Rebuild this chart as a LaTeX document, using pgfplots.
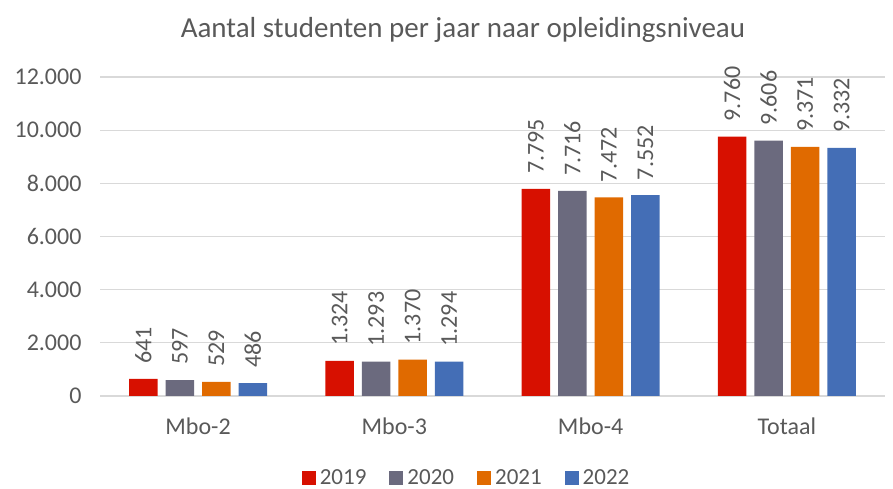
\documentclass[border=0pt]{standalone}
\usepackage{pgfplots}
\pgfplotsset{compat=1.18}
\usepackage{fontspec}
\setmainfont{Carlito}
\definecolor{cA}{HTML}{D71000}
\definecolor{cB}{HTML}{6B6A7E}
\definecolor{cC}{HTML}{E06A00}
\definecolor{cD}{HTML}{446EB6}
\definecolor{txt}{HTML}{595959}
\definecolor{gridc}{HTML}{D9D9D9}
\pgfkeys{/pgf/number format/.cd,1000 sep={.},assume math mode=true}
\begin{document}
\begin{tikzpicture}[x=1pt,y=1pt]
\path[use as bounding box] (0,0) rectangle (893,489);
\node[font=\fontsize{29}{33}\selectfont, text=txt] at (463,459) {Aantal studenten per jaar naar opleidingsniveau};
\begin{axis}[at={(100pt,93pt)}, anchor=south west,
  width=785pt, height=319pt, scale only axis,
  xmin=-0.5, xmax=3.5, ymin=0, ymax=12000,
  ybar=8pt, bar width=28.5pt,
  xtick={0,1,2,3}, xticklabels={Mbo-2,Mbo-3,Mbo-4,Totaal},
  ytick distance=2000, scaled y ticks=false,
  axis line style={draw=none}, major tick length=0pt,
  ymajorgrids, grid style={gridc, line width=1.3pt},
  tick label style={text=txt, font=\fontsize{24}{28}\selectfont},
  yticklabel style={xshift=-15pt},
  xticklabel style={yshift=-18pt},
  point meta=y,
  nodes near coords,
  every node near coord/.append style={rotate=90, anchor=west, inner xsep=15pt, inner ysep=0pt, text=txt, font=\fontsize{24}{28}\selectfont},
  legend style={at={(0.467,-0.257)}, anchor=center, draw=none, fill=none, legend columns=-1, font=\fontsize{23}{27}\selectfont, text=txt,
    /tikz/every even column/.append style={column sep=21pt}},
  legend image code/.code={\fill[#1, draw=none] (0pt,-7pt) rectangle (14pt,7pt); \path (16pt,0pt);},
]
\addplot[fill=cA, draw=none] coordinates {(0,641) (1,1324) (2,7795) (3,9760)};
\addplot[fill=cB, draw=none] coordinates {(0,597) (1,1293) (2,7716) (3,9606)};
\addplot[fill=cC, draw=none] coordinates {(0,529) (1,1370) (2,7472) (3,9371)};
\addplot[fill=cD, draw=none] coordinates {(0,486) (1,1294) (2,7552) (3,9332)};
\legend{2019,2020,2021,2022}
\end{axis}
\end{tikzpicture}
\end{document}
